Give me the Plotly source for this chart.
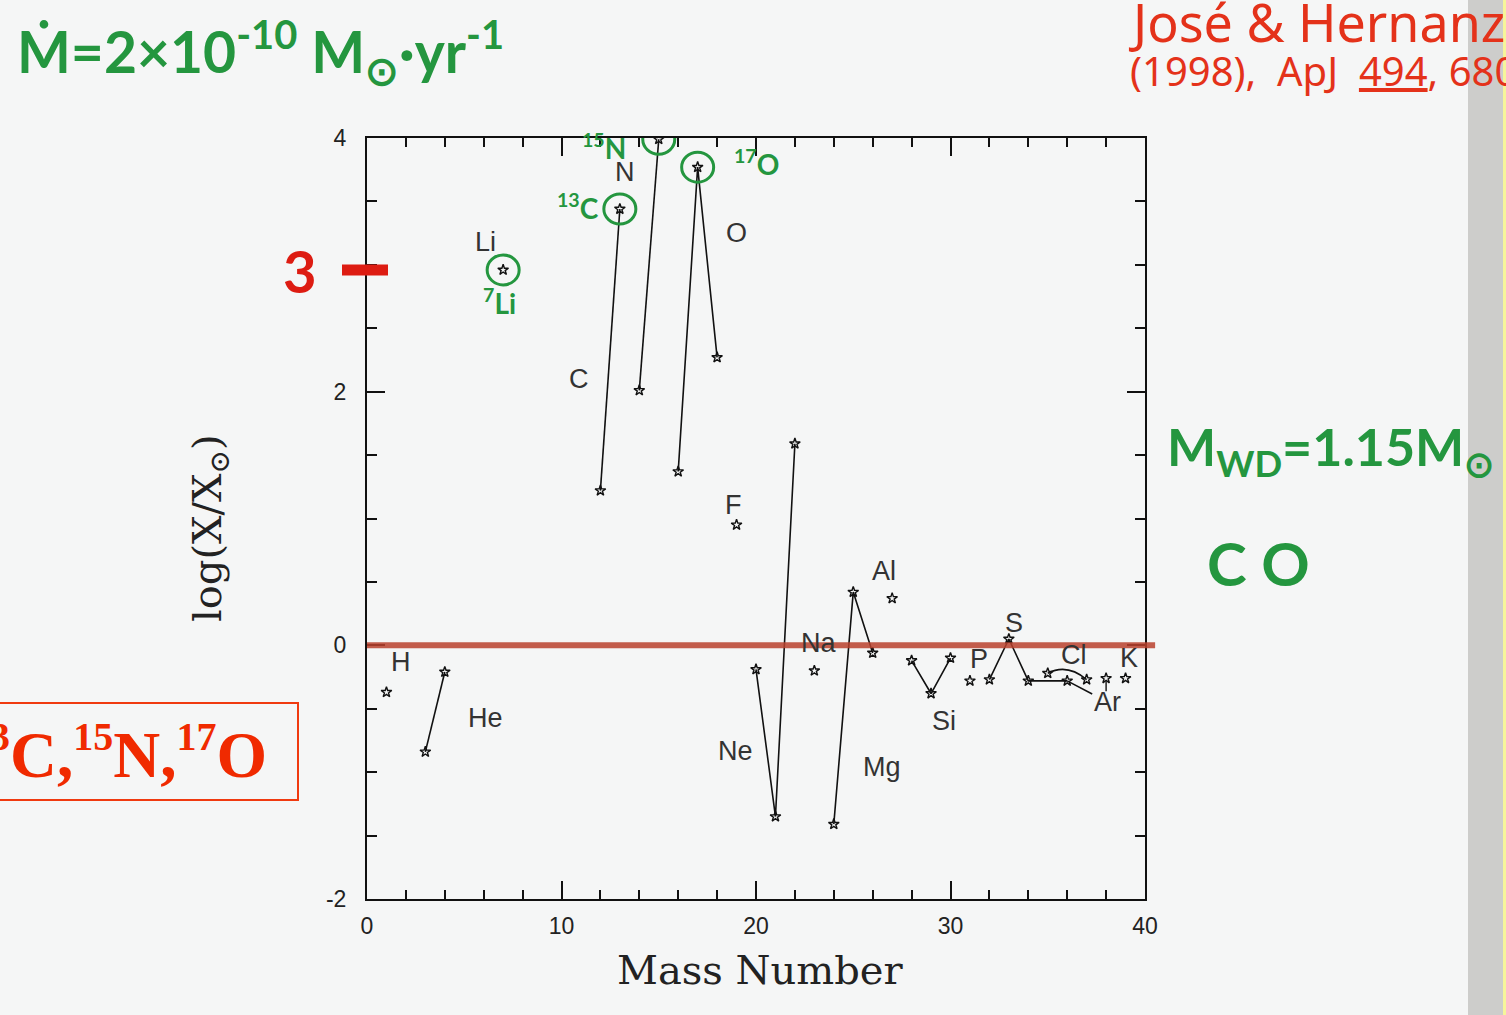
import plotly.graph_objects as go

# ---------------- data (log X/X_sun vs mass number) ----------------
H_x = [1];            H_y = [-0.37]
He_x = [3, 4];        He_y = [-0.84, -0.21]
Li_x = [7];           Li_y = [2.96]
C_x = [12, 13];       C_y = [1.22, 3.44]
N_x = [14, 15];       N_y = [2.01, 3.99]
O_x = [16, 17, 18];   O_y = [1.37, 3.77, 2.27]
F_x = [19];           F_y = [0.95]
Ne_x = [20, 21, 22];  Ne_y = [-0.19, -1.35, 1.59]
Na_x = [23];          Na_y = [-0.20]
Mg_x = [24, 25, 26];  Mg_y = [-1.41, 0.42, -0.06]
Al_x = [27];          Al_y = [0.37]
Si_x = [28, 29, 30];  Si_y = [-0.12, -0.38, -0.10]
P_x = [31];           P_y = [-0.28]
S_x = [32, 33, 34, 36]; S_y = [-0.27, 0.05, -0.28, -0.28]
Cl_x = [35, 37];      Cl_y = [-0.22, -0.27]
Ar_x = [38];          Ar_y = [-0.26]
K_x = [39];           K_y = [-0.26]

series = [
    ("H", H_x, H_y), ("He", He_x, He_y), ("Li", Li_x, Li_y), ("C", C_x, C_y),
    ("N", N_x, N_y), ("O", O_x, O_y), ("F", F_x, F_y), ("Ne", Ne_x, Ne_y),
    ("Na", Na_x, Na_y), ("Mg", Mg_x, Mg_y), ("Al", Al_x, Al_y), ("Si", Si_x, Si_y),
    ("P", P_x, P_y), ("S", S_x, S_y), ("Cl", Cl_x, Cl_y), ("Ar", Ar_x, Ar_y),
    ("K", K_x, K_y),
]

# element label positions (data coords)
label_names = ["H", "He", "Li", "C", "N", "O", "F", "Ne", "Na", "Al", "Mg", "Si", "P", "S", "Cl", "K"]
label_x = [1.75, 6.08, 6.1, 10.9, 13.24, 19.0, 18.83, 18.97, 23.2, 26.6, 26.46, 29.68, 31.47, 33.24, 36.36, 39.18]
label_y = [-0.13, -0.57, 3.18, 2.10, 3.73, 3.25, 1.11, -0.83, 0.02, 0.59, -0.96, -0.60, -0.11, 0.18, -0.076, -0.10]

x_ticks = [0, 10, 20, 30, 40]
y_ticks = [-2, 0, 2, 4]
y_tick_text = ["-2", "0", "2", "4"]
x_range = [0, 40]
y_range = [-2, 4]
ref_level = 0  # solar abundance line

W, H = 1506, 1015
def px(x): return x / W
def py(y): return 1 - y / H

GREEN = "#24963f"
RED = "#e4321a"
BG = "#f5f6f6"

fig = go.Figure()

for name, xs, ys in series:
    mode = "lines+markers" if (len(xs) > 1 and name != "Cl") else "markers"
    fig.add_trace(go.Scatter(
        x=xs, y=ys, mode=mode, name=name, showlegend=False,
        line=dict(color="#111", width=1.6),
        marker=dict(symbol="star-open", size=8, color="#111", line=dict(width=1.4, color="#111")),
        hoverinfo="x+y",
    ))

shapes = []
# red hand-drawn zero line (domain refs so it may run past the right axis)
y0_dom = (ref_level - y_range[0]) / (y_range[1] - y_range[0])
shapes.append(dict(type="line", xref="x domain", yref="y domain", x0=0, x1=1.013,
                   y0=y0_dom, y1=y0_dom,
                   line=dict(color="rgba(185,65,45,0.85)", width=6), layer="above"))
# Cl curved connector built from Cl data
cl_mid = (Cl_x[0] + Cl_x[1]) / 2
cl_top = max(Cl_y) + 0.08
shapes.append(dict(type="path", xref="x", yref="y",
                   path=f"M {Cl_x[0]},{Cl_y[0]} Q {cl_mid},{cl_top} {Cl_x[1]},{Cl_y[1]}",
                   line=dict(color="#111", width=1.6)))
# small pointer below Ar38
shapes.append(dict(type="line", xref="x", yref="y", ysizemode="pixel",
                   yanchor=Ar_y[0], x0=Ar_x[0], x1=Ar_x[0], y0=-3, y1=-13,
                   line=dict(color="#111", width=1.4)))
# green circles around 7Li, 13C, 15N, 17O
for cx, cy in [(Li_x[0], Li_y[0]), (C_x[1], C_y[1]), (N_x[1], N_y[1]), (O_x[1], O_y[1])]:
    shapes.append(dict(type="circle", xref="x", yref="y", xsizemode="pixel", ysizemode="pixel",
                       xanchor=cx, yanchor=cy, x0=-16, x1=16, y0=-15, y1=15,
                       line=dict(color=GREEN, width=3), layer="above"))
# red "3" dash marker
shapes.append(dict(type="line", xref="paper", yref="paper", x0=px(342), x1=px(388),
                   y0=py(270), y1=py(270), line=dict(color="#dd1c12", width=11), layer="above"))
# red box
shapes.append(dict(type="rect", xref="paper", yref="paper", x0=px(-4), x1=px(298),
                   y0=py(703), y1=py(800), line=dict(color="#f03a10", width=2)))
# right scanner strip
shapes.append(dict(type="rect", xref="paper", yref="paper", x0=px(1468), x1=1.0,
                   y0=0, y1=1, line=dict(width=0), fillcolor="#cdcdcb", layer="below"))
shapes.append(dict(type="rect", xref="paper", yref="paper", x0=px(1503), x1=1.0,
                   y0=0, y1=1, line=dict(width=0), fillcolor="#f6f59a", layer="below"))

ann = []
LBL = dict(family="Liberation Sans, Arial", size=27, color="#333")
for t, x, y in zip(label_names, label_x, label_y):
    ann.append(dict(x=x, y=y, xref="x", yref="y", text=t, showarrow=False, font=LBL))
# Ar label with pointer to mass-36 point
ann.append(dict(x=S_x[3], y=S_y[3], xref="x", yref="y", text="Ar", showarrow=True,
                ax=40, ay=21, arrowhead=0, arrowwidth=1.5, arrowcolor="#111", font=LBL))

# green isotope tags
green_tags = [("<sup>7</sup>Li", 6.83, 2.71), ("<sup>13</sup>C", 10.85, 3.46),
              ("<sup>15</sup>N", 12.2, 3.93), ("<sup>17</sup>O", 20.04, 3.81)]
for t, x, y in green_tags:
    ann.append(dict(x=x, y=y, xref="x", yref="y", text=t, showarrow=False,
                    font=dict(family="Lato, Noto Sans", size=28, color=GREEN, weight="bold")))

def pann(text, x, y, font, xanchor="center", yanchor="middle", **kw):
    ann.append(dict(x=px(x), y=py(y), xref="paper", yref="paper", text=text, showarrow=False,
                    xanchor=xanchor, yanchor=yanchor, font=font, **kw))

# axis titles
pann("Mass Number", 760, 970, dict(family="DejaVu Serif", size=40, color="#222"))
pann("log(X/X<sub>⊙</sub>)", 210, 528, dict(family="DejaVu Serif", size=40, color="#222"), textangle=-90)

# handwriting annotations
pann("Ṁ=2×10<sup>-10</sup> M<sub>⊙</sub>·yr<sup>-1</sup>", 15, 52,
     dict(family="Lato, Noto Sans", size=57, color=GREEN, weight="bold"), xanchor="left")
pann("M<sub>WD</sub>=1.15M<sub>⊙</sub>", 1165, 450,
     dict(family="Lato, Noto Sans", size=52, color=GREEN, weight="bold"), xanchor="left")
pann("C O", 1258, 563, dict(family="Lato, Noto Sans", size=60, color=GREEN, weight="bold"))
pann("José &amp; Hernanz", 1126, 22, dict(family="Noto Sans", size=52, color=RED), xanchor="left")
pann("(1998),  ApJ  <u>494</u>, 680", 1128, 71, dict(family="Noto Sans", size=40, color=RED),
     xanchor="left")
pann("3", 300, 270, dict(family="Lato, Noto Sans", size=58, color="#dd1c12", weight="bold"))
SUPF = "<span style='font-size:40px'>{}</span>"
pann("<sup>" + SUPF.format("13") + "</sup>C,<sup>" + SUPF.format("15") + "</sup>N,<sup>"
     + SUPF.format("17") + "</sup>O", 269, 752,
     dict(family="Liberation Serif, Times New Roman", size=65, color="#f02a00", weight="bold"),
     xanchor="right")

axis_common = dict(showgrid=False, zeroline=False, showline=True, linecolor="#111", linewidth=2,
                   mirror="allticks", ticks="inside", ticklen=18, tickwidth=1.5, tickcolor="#111",
                   automargin=False,
                   tickfont=dict(family="Liberation Sans, Arial", size=23, color="#222"))

fig.update_layout(
    width=W, height=H,
    margin=dict(l=0, r=0, t=0, b=0, pad=0, autoexpand=False),
    paper_bgcolor=BG, plot_bgcolor=BG,
    xaxis=dict(range=x_range, domain=[px(367), px(1145)], tickvals=x_ticks,
               minor=dict(dtick=2, ticklen=9, ticks="inside", tickwidth=1.5, tickcolor="#111"),
               ticklabelstandoff=5, **axis_common),
    yaxis=dict(range=y_range, domain=[py(899), py(138)], tickvals=y_ticks, ticktext=y_tick_text,
               minor=dict(dtick=0.5, ticklen=10, ticks="inside", tickwidth=1.5, tickcolor="#111"),
               ticklabelstandoff=14, **axis_common),
    shapes=shapes, annotations=ann,
)

fig.write_html("out.html")
